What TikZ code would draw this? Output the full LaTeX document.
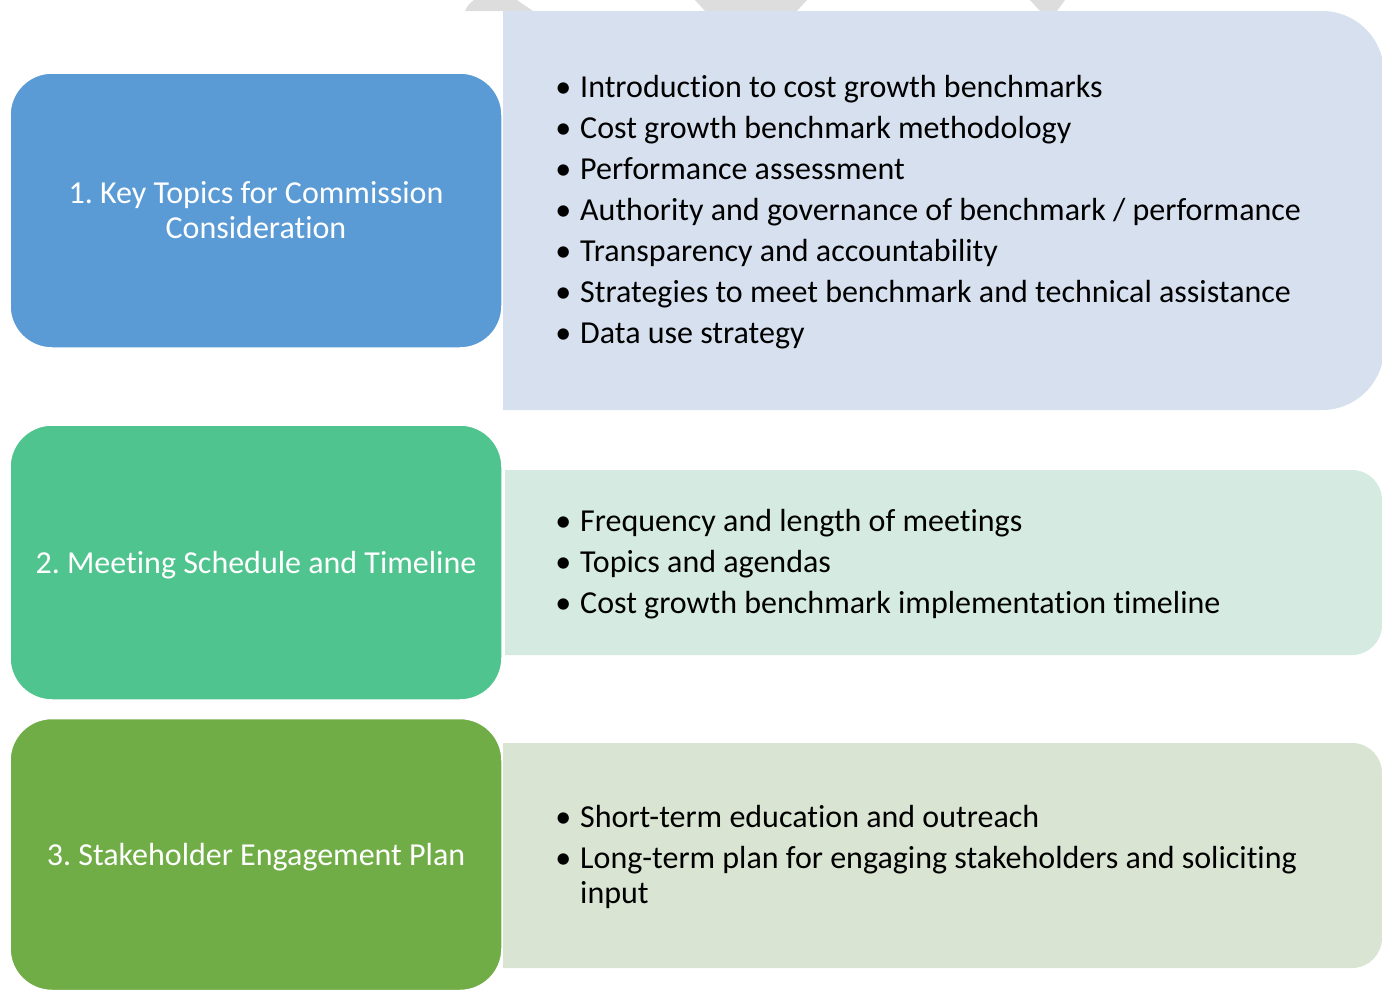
\documentclass[tikz,border=0pt]{standalone}
\usepackage{fontspec}
\setmainfont{Carlito}[Ligatures=NoCommon]

\definecolor{keyblue}{HTML}{5B9BD5}
\definecolor{keygreen}{HTML}{4FC48E}
\definecolor{keyolive}{HTML}{70AD47}
\definecolor{paleblue}{HTML}{D6E0EE}
\definecolor{palegreen}{HTML}{D5EAE1}
\definecolor{paleolive}{HTML}{D9E4D3}
\definecolor{topgrey}{HTML}{DDDDDD}

\newcommand{\bul}{\llap{\textbullet\hspace{9pt}}}

\tikzset{
  topic/.style={draw=white, line width=1.5pt, rounded corners=42pt,
    minimum width=492pt, minimum height=275pt, inner sep=0pt,
    text=white, align=center, font=\fontsize{32}{35}\selectfont},
  point/.style={anchor=base west, inner sep=0pt, text=black,
    font=\fontsize{32}{35}\selectfont}
}

\frenchspacing
\begin{document}
\begin{tikzpicture}[x=1pt,y=-1pt]
\useasboundingbox (0,0) rectangle (1382,991);

% grey bits at the top edge
\fill[topgrey] (465,11) to[bend left=15] (474,0) -- (517,0) -- (533,11) -- cycle;
\fill[topgrey] (695,0) -- (807,0) -- (797,11) -- (705,11) -- cycle;
\fill[topgrey] (1030,0) -- (1065,0) -- (1057,11) -- (1040,11) -- cycle;

% detail panels
\fill[paleblue] (503,11) -- (1322,11) arc(-90:0:62) -- (1384,348) arc(0:90:62) -- (503,410) -- cycle;
\fill[palegreen] (505,470) -- (1352,470) arc(-90:0:30) -- (1382,625) arc(0:90:30) -- (505,655) -- cycle;
\fill[paleolive] (503,743) -- (1352,743) arc(-90:0:30) -- (1382,938) arc(0:90:30) -- (503,968) -- cycle;

% topics
\node[topic, fill=keyblue] (topic1) at (256,210.5) {1. Key Topics for Commission\\Consideration};
\node[topic, fill=keygreen, text depth=0pt] (topic2) at (256,562.5) {2. Meeting Schedule and Timeline};
\node[topic, fill=keyolive, text depth=0pt, minimum height=272pt] (topic3) at (256,854.5) {3. Stakeholder Engagement Plan};

% bullet points
\node[point] (p11) at (580,97) {\bul Introduction to cost growth benchmarks};
\node[point] (p12) at (580,138) {\bul Cost growth benchmark methodology};
\node[point] (p13) at (580,179) {\bul Performance assessment};
\node[point] (p14) at (580,220) {\bul Authority and governance of benchmark / performance};
\node[point] (p15) at (580,261) {\bul Transparency and accountability};
\node[point] (p16) at (580,302) {\bul Strategies to meet benchmark and technical assistance};
\node[point] (p17) at (580,343) {\bul Data use strategy};

\node[point] (p21) at (580,531) {\bul Frequency and length of meetings};
\node[point] (p22) at (580,572) {\bul Topics and agendas};
\node[point] (p23) at (580,613) {\bul Cost growth benchmark implementation timeline};

\node[point] (p31) at (580,827) {\bul Short-term education and outreach};
\node[point] (p32) at (580,868) {\bul Long-term plan for engaging stakeholders and soliciting};
\node[point] (p33) at (580,903) {input};
\end{tikzpicture}
\end{document}
